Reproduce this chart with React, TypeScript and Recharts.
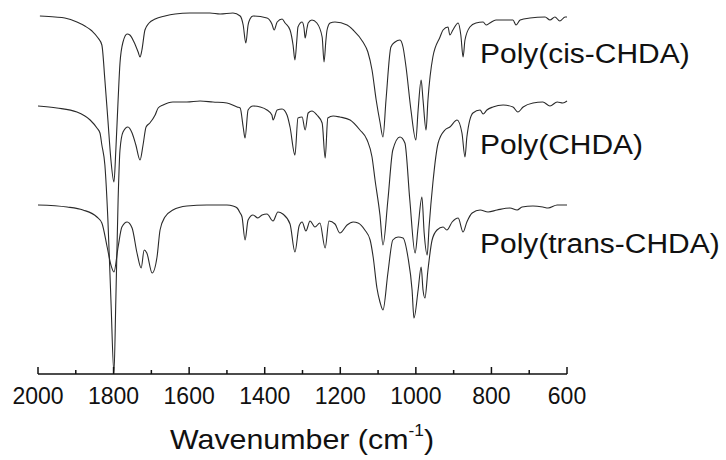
import { Line, LineChart, XAxis, YAxis } from 'recharts'

type Pt = [number, number]

// [wavenumber cm-1, transmittance a.u.] — the three traces are stacked with offsets
const cisSpectrum: Pt[] = [
  [1995, 357], [1955, 356], [1929, 355], [1897, 351], [1876, 347], [1857, 342], [1841, 335],
  [1831, 328], [1823, 293], [1815, 253], [1807, 213], [1799, 191], [1794, 223], [1788, 273],
  [1783, 310], [1775, 331], [1764, 339], [1757, 338], [1746, 331], [1735, 321], [1730, 316],
  [1725, 323], [1717, 343], [1706, 350], [1690, 354], [1664, 357], [1637, 359], [1598, 360],
  [1545, 360], [1518, 359], [1484, 360], [1465, 357], [1457, 348], [1450, 330], [1444, 348],
  [1439, 354], [1431, 357], [1394, 355], [1381, 349], [1375, 343], [1367, 351], [1354, 354],
  [1346, 350], [1333, 343], [1325, 328], [1320, 313], [1315, 333], [1312, 346], [1301, 351],
  [1296, 345], [1293, 335], [1288, 345], [1285, 350], [1275, 353], [1262, 350], [1248, 336],
  [1243, 311], [1238, 333], [1235, 343], [1227, 350], [1214, 351], [1182, 348], [1166, 343],
  [1140, 331], [1127, 321], [1116, 303], [1105, 273], [1095, 251], [1087, 236], [1079, 273],
  [1066, 326], [1055, 331], [1042, 333], [1034, 326], [1026, 306], [1013, 263], [1000, 233],
  [994, 263], [986, 293], [981, 273], [973, 243], [968, 273], [955, 316], [936, 336],
  [928, 343], [915, 346], [910, 338], [902, 343], [888, 350], [881, 338], [875, 316],
  [870, 333], [857, 346], [841, 350], [822, 351], [814, 348], [804, 350], [788, 353],
  [743, 353], [735, 348], [724, 353], [698, 355], [658, 356], [645, 353], [632, 356],
  [619, 352], [605, 356], [600, 356],
]

const mixSpectrum: Pt[] = [
  [2000, 267], [1950, 265], [1897, 261], [1862, 253], [1844, 245], [1836, 240], [1831, 228],
  [1823, 208], [1815, 153], [1807, 73], [1799, 0], [1794, 73], [1788, 173], [1783, 223],
  [1775, 241], [1762, 246], [1751, 240], [1741, 228], [1730, 213], [1722, 228], [1714, 246],
  [1704, 250], [1690, 258], [1682, 265], [1669, 268], [1643, 271], [1606, 271], [1571, 272],
  [1537, 271], [1500, 270], [1473, 266], [1465, 265], [1457, 246], [1452, 235], [1444, 263],
  [1431, 267], [1412, 266], [1394, 263], [1381, 258], [1378, 253], [1367, 263], [1354, 264],
  [1341, 258], [1333, 246], [1320, 218], [1312, 255], [1301, 256], [1293, 243], [1285, 260],
  [1275, 262], [1262, 258], [1248, 250], [1240, 215], [1233, 255], [1219, 257], [1201, 256],
  [1174, 253], [1148, 243], [1129, 233], [1116, 216], [1108, 193], [1095, 158], [1087, 128],
  [1074, 173], [1061, 223], [1042, 236], [1029, 230], [1016, 173], [1002, 120], [994, 146],
  [984, 176], [978, 140], [970, 118], [965, 146], [955, 190], [941, 230], [923, 243],
  [910, 246], [891, 253], [878, 240], [870, 216], [865, 236], [849, 260], [830, 263],
  [822, 259], [812, 263], [796, 266], [769, 268], [743, 266], [730, 261], [716, 266],
  [690, 270], [664, 271], [645, 267], [626, 271], [611, 270], [600, 272],
]

const transSpectrum: Pt[] = [
  [2000, 168], [1923, 166], [1881, 163], [1844, 156], [1831, 150], [1817, 126], [1807, 108],
  [1799, 101], [1788, 126], [1778, 146], [1764, 151], [1751, 145], [1738, 120], [1727, 105],
  [1719, 123], [1712, 120], [1698, 100], [1685, 116], [1677, 143], [1664, 156], [1643, 163],
  [1606, 167], [1553, 168], [1500, 168], [1484, 167], [1473, 165], [1465, 160], [1460, 156],
  [1452, 133], [1444, 153], [1431, 158], [1418, 155], [1407, 158], [1394, 159], [1378, 152],
  [1365, 161], [1352, 159], [1333, 149], [1320, 121], [1309, 147], [1301, 151], [1291, 142],
  [1280, 152], [1267, 146], [1254, 150], [1240, 125], [1230, 152], [1214, 149], [1201, 140],
  [1182, 148], [1166, 151], [1153, 150], [1135, 143], [1121, 133], [1113, 116], [1103, 85],
  [1095, 71], [1087, 63], [1074, 100], [1061, 133], [1047, 136], [1034, 135], [1021, 116],
  [1010, 83], [1005, 55], [994, 83], [986, 106], [981, 83], [976, 75], [968, 103],
  [957, 133], [944, 143], [928, 146], [918, 143], [904, 151], [888, 155], [875, 141],
  [865, 151], [851, 160], [830, 163], [809, 161], [785, 163], [751, 165], [732, 163],
  [719, 166], [690, 167], [664, 166], [650, 165], [626, 168], [600, 168],
]

const seriesLabels = ['Poly(cis-CHDA)', 'Poly(CHDA)', 'Poly(trans-CHDA)']
const xTicks = [2000, 1900, 1800, 1700, 1600, 1500, 1400, 1300, 1200, 1100, 1000, 900, 800, 700, 600]
const labelledTicks = [2000, 1800, 1600, 1400, 1200, 1000, 800, 600]

const toRows = (pts: Pt[]) => pts.map(([wn, t]) => ({ wn, t }))

const FONT = '"Liberation Sans", Arial, Helvetica, sans-serif'
const INK = '#111'

function InwardTick(props: any) {
  const { x, y, payload } = props
  const major = labelledTicks.includes(payload.value)
  return (
    <g>
      <line x1={x} x2={x} y1={y} y2={y - (major ? 7 : 4)} stroke={INK} strokeWidth={1.5} />
      {major && (
        <text x={x} y={y + 30} textAnchor="middle" fontSize={23} fontFamily={FONT} fill={INK}>
          {payload.value}
        </text>
      )}
    </g>
  )
}

export default function App() {
  const traces = [cisSpectrum, mixSpectrum, transSpectrum]
  const labelY = [63, 154, 253]
  return (
    <div style={{ position: 'absolute', left: 0, top: 0, width: 726, height: 460, background: '#fff' }}>
      <LineChart width={726} height={460} margin={{ top: 13, right: 159, bottom: 26, left: 38 }}>
        <XAxis
          dataKey="wn"
          type="number"
          domain={[600, 2000]}
          reversed
          ticks={xTicks}
          interval={0}
          height={60}
          tickSize={0}
          tickMargin={0}
          tickLine={false}
          tick={<InwardTick />}
          axisLine={{ stroke: INK, strokeWidth: 1.5 }}
          allowDuplicatedCategory={false}
        />
        <YAxis hide type="number" domain={[-1, 360]} />
        {traces.map((pts, i) => (
          <Line
            key={seriesLabels[i]}
            data={toRows(pts)}
            dataKey="t"
            name={seriesLabels[i]}
            type="monotone"
            stroke="#2a2a2a"
            strokeWidth={1.1}
            dot={false}
            activeDot={false}
            isAnimationActive={false}
          />
        ))}
        {seriesLabels.map((s, i) => (
          <text
            key={s}
            transform={`translate(480 ${labelY[i]}) scale(1.07 1)`}
            fontSize={28}
            fontFamily={FONT}
            fill={INK}
          >
            {s}
          </text>
        ))}
        <text
          transform="translate(302 449) scale(1.085 1)"
          textAnchor="middle"
          fontSize={28}
          fontFamily={FONT}
          fill={INK}
        >
          Wavenumber (cm
          <tspan fontSize={16} dy={-13}>-1</tspan>
          <tspan dy={13}>)</tspan>
        </text>
      </LineChart>
    </div>
  )
}
